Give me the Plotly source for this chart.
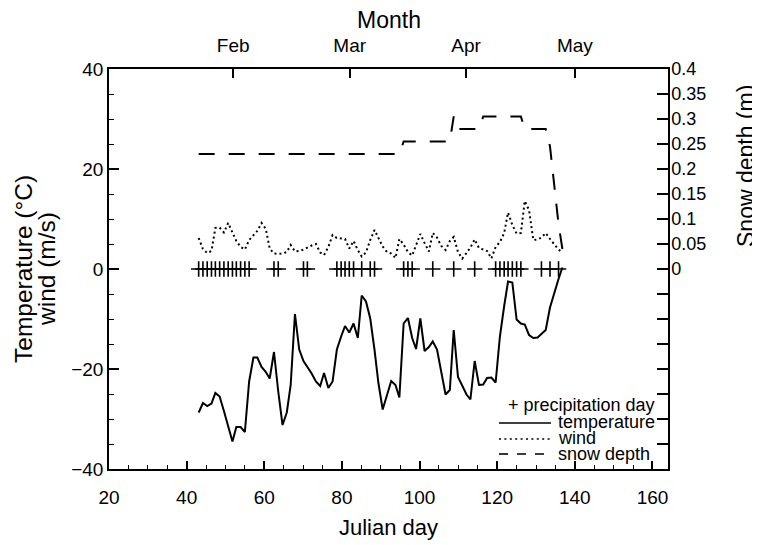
import plotly.graph_objects as go

# ---------------- data ----------------
# x positions of the daily samples, as read on the reference's Julian-day axis
days = [
    43.1, 44.2, 45.3, 46.4, 47.4, 48.5, 49.6, 50.7, 51.8, 52.8,
    53.9, 55.0, 56.1, 57.2, 58.2, 59.3, 60.4, 61.4, 62.5, 63.6,
    64.7, 65.8, 66.8, 67.9, 69.0, 70.1, 71.1, 72.2, 73.3, 74.4,
    75.4, 76.5, 77.6, 78.7, 79.8, 80.8, 81.9, 83.0, 84.1, 85.1,
    86.2, 87.3, 88.4, 89.4, 90.5, 91.6, 92.7, 93.8, 94.8, 95.9,
    97.0, 98.1, 99.1, 100.2, 101.3, 102.4, 103.4, 104.5, 105.6, 106.7,
    107.8, 108.8, 109.9, 111.0, 112.1, 113.1, 114.2, 115.3, 116.4, 117.4,
    118.5, 119.6, 120.7, 121.8, 122.8, 123.9, 125.0, 126.1, 127.1, 128.2,
    129.3, 130.4, 131.4, 132.5, 133.6, 134.7, 135.8, 136.8,
]

temperature = [
    -28.7, -26.8, -27.4, -26.9, -24.8, -25.5, -28.4, -31.6, -34.5, -31.6,
    -31.6, -32.6, -22.5, -17.7, -17.7, -19.6, -20.6, -21.9, -16.6, -24.5,
    -31.2, -28.7, -23.2, -9.0, -16.1, -18.4, -19.6, -20.9, -22.5, -23.4,
    -20.8, -23.8, -22.5, -16.1, -13.5, -11.4, -12.7, -10.9, -13.8, -5.3,
    -6.5, -9.9, -16.2, -22.8, -28.1, -25.3, -22.4, -23.2, -25.7, -10.9,
    -9.8, -13.8, -16.0, -9.9, -16.4, -15.6, -14.5, -16.1, -20.6, -25.1,
    -24.2, -12.2, -21.6, -23.5, -25.1, -26.1, -18.4, -23.2, -23.1, -21.8,
    -21.7, -22.7, -13.5, -7.4, -2.5, -2.7, -10.1, -10.9, -11.1, -13.2,
    -13.8, -13.7, -12.9, -12.2, -7.7, -4.6, -2.0, 0.3,
]

wind = [
    6.2, 4.0, 3.2, 3.6, 8.2, 8.3, 7.3, 9.2, 7.3, 5.6,
    4.4, 3.9, 5.8, 6.8, 7.6, 9.2, 8.0, 4.1, 3.1, 3.0,
    3.1, 3.4, 4.8, 3.5, 3.6, 3.9, 4.3, 4.7, 5.0, 3.3,
    2.8, 4.4, 6.8, 6.2, 6.1, 6.0, 4.1, 5.6, 3.8, 2.5,
    3.3, 5.8, 7.8, 6.3, 4.5, 3.4, 3.1, 2.2, 6.0, 4.9,
    3.4, 2.7, 4.6, 7.0, 5.2, 3.5, 7.2, 6.3, 4.6, 3.8,
    5.6, 6.4, 3.4, 2.1, 3.2, 4.3, 5.9, 4.2, 3.9, 3.6,
    2.1, 4.4, 5.4, 7.2, 11.3, 8.8, 7.1, 7.2, 13.6, 11.8,
    5.8, 5.9, 6.3, 7.2, 6.0, 4.9, 3.9, 3.3,
]

snow_depth = (
    [0.23] * 49
    + [0.255] * 12
    + [0.305]
    + [0.28] * 6
    + [0.305] * 10
    + [0.28] * 6
    + [0.245, 0.17, 0.09, 0.04]
)

precip_days = [
    43.1, 44.2, 45.3, 46.4, 47.4, 48.5, 49.6, 50.7, 51.8, 52.8, 53.9, 55.0, 56.1,
    62.5, 63.6, 70.1, 71.1,
    78.7, 79.8, 80.8, 81.9, 83.0, 85.1, 87.3, 88.4,
    95.9, 97.0, 98.1, 103.4, 108.8, 114.2,
    119.6, 120.7, 121.8, 122.8, 123.9, 125.0, 126.1,
    131.4, 133.6, 135.8,
]
precip_level = [0] * len(precip_days)

month_ticks = [52, 82, 112, 140]
month_labels = ["Feb", "Mar", "Apr", "May"]

snow_ticks = [round(-0.4 + 0.05 * i, 2) for i in range(17)]
snow_labels = ["" if v < 0 else ("0" if v == 0 else f"{v:g}") for v in snow_ticks]

# ---------------- figure ----------------
FONT = "Liberation Sans, Arial, Helvetica, sans-serif"
INK = "black"
X_RANGE = [20, 164]

fig = go.Figure()

fig.add_trace(go.Scatter(
    x=days, y=snow_depth, mode="lines", yaxis="y2", name="snow depth",
    line=dict(color=INK, width=2, dash="16px,14px"), showlegend=False))

fig.add_trace(go.Scatter(
    x=days, y=wind, mode="lines", name="wind",
    line=dict(color=INK, width=2, dash="2px,3px"), showlegend=False))

fig.add_trace(go.Scatter(
    x=days, y=temperature, mode="lines", name="temperature",
    line=dict(color=INK, width=2), showlegend=False))

fig.add_trace(go.Scatter(
    x=precip_days, y=precip_level, mode="markers", name="precipitation day",
    marker=dict(symbol="cross-thin", size=11, line=dict(color=INK, width=1.6)),
    showlegend=False))

# invisible trace to activate the top axis
fig.add_trace(go.Scatter(x=X_RANGE, y=[0, 0], xaxis="x2", mode="markers",
                         marker=dict(opacity=0), hoverinfo="skip", showlegend=False))

L, R, T, B = 101, 100, 61, 84
W, H = 760, 545
pw, ph = W - L - R, H - T - B


def px(xp):
    return (xp - L) / pw


def py(yp):
    return (H - B - yp) / ph


axis_common = dict(showgrid=False, zeroline=False, showline=True,
                   linecolor=INK, linewidth=1.5, tickcolor=INK,
                   ticks="inside", tickwidth=1.5)

fig.update_layout(
    width=W, height=H,
    margin=dict(l=L, r=R, t=T, b=B, pad=0),
    paper_bgcolor="white", plot_bgcolor="white",
    font=dict(family=FONT, color=INK, size=19),
    xaxis=dict(range=X_RANGE, tick0=20, dtick=20, ticklen=8,
               tickfont=dict(size=19), ticklabelstandoff=10,
               minor=dict(dtick=5, tick0=0, ticks="inside", ticklen=4,
                          tickwidth=1.2, tickcolor=INK),
               **axis_common),
    xaxis2=dict(range=X_RANGE, overlaying="x", side="top", anchor="y",
                tickmode="array", tickvals=month_ticks, ticktext=month_labels,
                ticklen=9, tickfont=dict(size=19), ticklabelstandoff=8,
                **axis_common),
    yaxis=dict(range=[-40, 40], tick0=-40, dtick=20, ticklen=10,
               tickfont=dict(size=19), ticklabelstandoff=0,
               minor=dict(dtick=5, tick0=0, ticks="inside", ticklen=5,
                          tickwidth=1.2, tickcolor=INK),
               **axis_common),
    yaxis2=dict(range=[-0.4, 0.4], overlaying="y", side="right", anchor="x",
                tickmode="array", tickvals=snow_ticks, ticktext=snow_labels,
                ticklen=11, tickfont=dict(size=18), ticklabelstandoff=-2,
                **axis_common),
)

ann = []
ann.append(dict(text="Month", x=0.5, y=py(12), xref="paper", yref="paper",
                showarrow=False, font=dict(size=23), xanchor="center", yanchor="middle"))
ann.append(dict(text="Julian day", x=0.5, y=py(519), xref="paper", yref="paper",
                showarrow=False, font=dict(size=22), xanchor="center", yanchor="middle"))
ann.append(dict(text="Temperature (°C)", x=px(15), y=0.5, xref="paper", yref="paper",
                showarrow=False, font=dict(size=24.5), textangle=-90,
                xanchor="center", yanchor="middle"))
ann.append(dict(text="wind (m/s)", x=px(38), y=0.5, xref="paper", yref="paper",
                showarrow=False, font=dict(size=24.5), textangle=-90,
                xanchor="center", yanchor="middle"))
ann.append(dict(text="Snow depth (m)", x=px(738), y=py(158), xref="paper", yref="paper",
                showarrow=False, font=dict(size=23), textangle=-90,
                xanchor="center", yanchor="middle"))

# legend (drawn as text + sample lines)
legend_font = dict(size=18)
ann.append(dict(text="+ precipitation day", x=px(498), y=py(397), xref="paper",
                yref="paper", showarrow=False, font=legend_font,
                xanchor="left", yanchor="middle"))
for label, yy in [("temperature", 413.5), ("wind", 429.5), ("snow depth", 445.5)]:
    ann.append(dict(text=label, x=px(548), y=py(yy), xref="paper", yref="paper",
                    showarrow=False, font=legend_font, xanchor="left", yanchor="middle"))

shapes = []
for dash, yy in [("solid", 415), ("2px,3.4px", 431), ("9px,9px", 446)]:
    shapes.append(dict(type="line", xref="paper", yref="paper",
                       x0=px(491), x1=px(543), y0=py(yy), y1=py(yy),
                       line=dict(color=INK, width=1.6, dash=dash)))

fig.update_layout(annotations=ann, shapes=shapes)

fig.write_html("out.html")
